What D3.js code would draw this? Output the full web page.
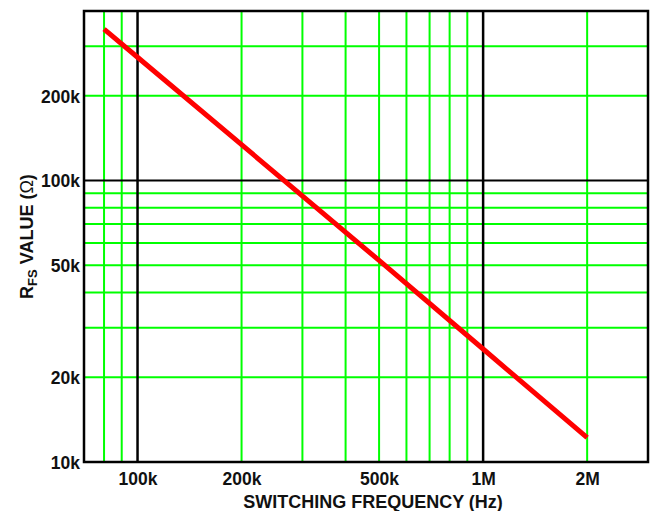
<!DOCTYPE html>
<html>
<head>
<meta charset="utf-8">
<script src="https://cdn.jsdelivr.net/npm/d3@7"></script>
<style>
  body { margin: 0; background: #fff; }
  text { font-family: "Liberation Sans", Arial, sans-serif; font-weight: bold; fill: #111; }
</style>
</head>
<body>
<div id="chart"></div>
<script>
const width = 651;
const height = 511;

// data (log-log)
const freq = [80e3, 100e3, 200e3, 500e3, 1e6, 2e6];
const rfs = [345e3, 274e3, 134e3, 52e3, 25.2e3, 12.2e3];

const xTicks = [100e3, 200e3, 500e3, 1e6, 2e6];
const xTickLabels = ["100k", "200k", "500k", "1M", "2M"];
const yTicks = [10e3, 20e3, 50e3, 100e3, 200e3];
const yTickLabels = ["10k", "20k", "50k", "100k", "200k"];

const xGridGreen = [80e3, 90e3, 200e3, 300e3, 400e3, 500e3, 600e3, 700e3, 800e3, 900e3, 2e6];
const xGridBlack = [100e3, 1e6];
const yGridGreen = [20e3, 30e3, 40e3, 50e3, 60e3, 70e3, 80e3, 90e3, 200e3, 300e3];
const yGridBlack = [100e3];

const margin = { left: 84, right: 3, top: 11, bottom: 49 };

const x = d3.scaleLog().domain([70e3, 3e6]).range([margin.left, width - margin.right]);
const y = d3.scaleLog().domain([10e3, 400e3]).range([height - margin.bottom, margin.top]);

const svg = d3.select("#chart")
    .append("svg")
    .attr("width", width)
    .attr("height", height);

const y0 = y.range()[0], y1 = y.range()[1];
const x0 = x.range()[0], x1 = x.range()[1];

// green grid
svg.append("g").selectAll("line")
    .data(xGridGreen)
    .join("line")
    .attr("x1", d => x(d)).attr("x2", d => x(d))
    .attr("y1", y0).attr("y2", y1)
    .attr("stroke", "#00ff00").attr("stroke-width", 2);

svg.append("g").selectAll("line")
    .data(yGridGreen)
    .join("line")
    .attr("x1", x0).attr("x2", x1)
    .attr("y1", d => y(d)).attr("y2", d => y(d))
    .attr("stroke", "#00ff00").attr("stroke-width", 2);

// black decade lines
svg.append("g").selectAll("line")
    .data(xGridBlack)
    .join("line")
    .attr("x1", d => x(d)).attr("x2", d => x(d))
    .attr("y1", y0).attr("y2", y1)
    .attr("stroke", "#000").attr("stroke-width", 2.5);

svg.append("g").selectAll("line")
    .data(yGridBlack)
    .join("line")
    .attr("x1", x0).attr("x2", x1)
    .attr("y1", d => y(d)).attr("y2", d => y(d))
    .attr("stroke", "#000").attr("stroke-width", 2);

// frame
svg.append("rect")
    .attr("x", x0).attr("y", y1)
    .attr("width", x1 - x0).attr("height", y0 - y1)
    .attr("fill", "none").attr("stroke", "#000").attr("stroke-width", 2.5);

// axes (labels only)
const xAxis = svg.append("g")
    .attr("transform", `translate(0,${y0})`)
    .call(d3.axisBottom(x).tickValues(xTicks).tickSize(0).tickPadding(0)
        .tickFormat((d, i) => xTickLabels[i]));
xAxis.select(".domain").remove();
xAxis.selectAll("text")
    .attr("y", 23).attr("dy", 0)
    .style("font-size", "17.5px");

const yAxis = svg.append("g")
    .attr("transform", `translate(${x0},0)`)
    .call(d3.axisLeft(y).tickValues(yTicks).tickSize(0).tickPadding(0)
        .tickFormat((d, i) => yTickLabels[i]));
yAxis.select(".domain").remove();
yAxis.selectAll("text")
    .attr("x", -4).attr("dy", "0.36em")
    .style("font-size", "17.5px");

// red curve
const line = d3.line()
    .x((d, i) => x(freq[i]))
    .y(d => y(d));

svg.append("path")
    .datum(rfs)
    .attr("d", line)
    .attr("fill", "none")
    .attr("stroke", "#ff0000")
    .attr("stroke-width", 5);

// axis titles
svg.append("text")
    .attr("x", 373)
    .attr("y", 508)
    .attr("text-anchor", "middle")
    .style("font-size", "18px")
    .text("SWITCHING FREQUENCY (Hz)");

const yt = svg.append("text")
    .attr("transform", `translate(33,${(y0 + y1) / 2}) rotate(-90)`)
    .attr("text-anchor", "middle")
    .style("font-size", "18px");
yt.append("tspan").text("R");
yt.append("tspan").attr("dy", 4).style("font-size", "13px").text("FS");
yt.append("tspan").attr("dy", -4).text(" VALUE (");
yt.append("tspan").style("font-weight", "normal").text("Ω");
yt.append("tspan").text(")");
</script>
</body>
</html>
